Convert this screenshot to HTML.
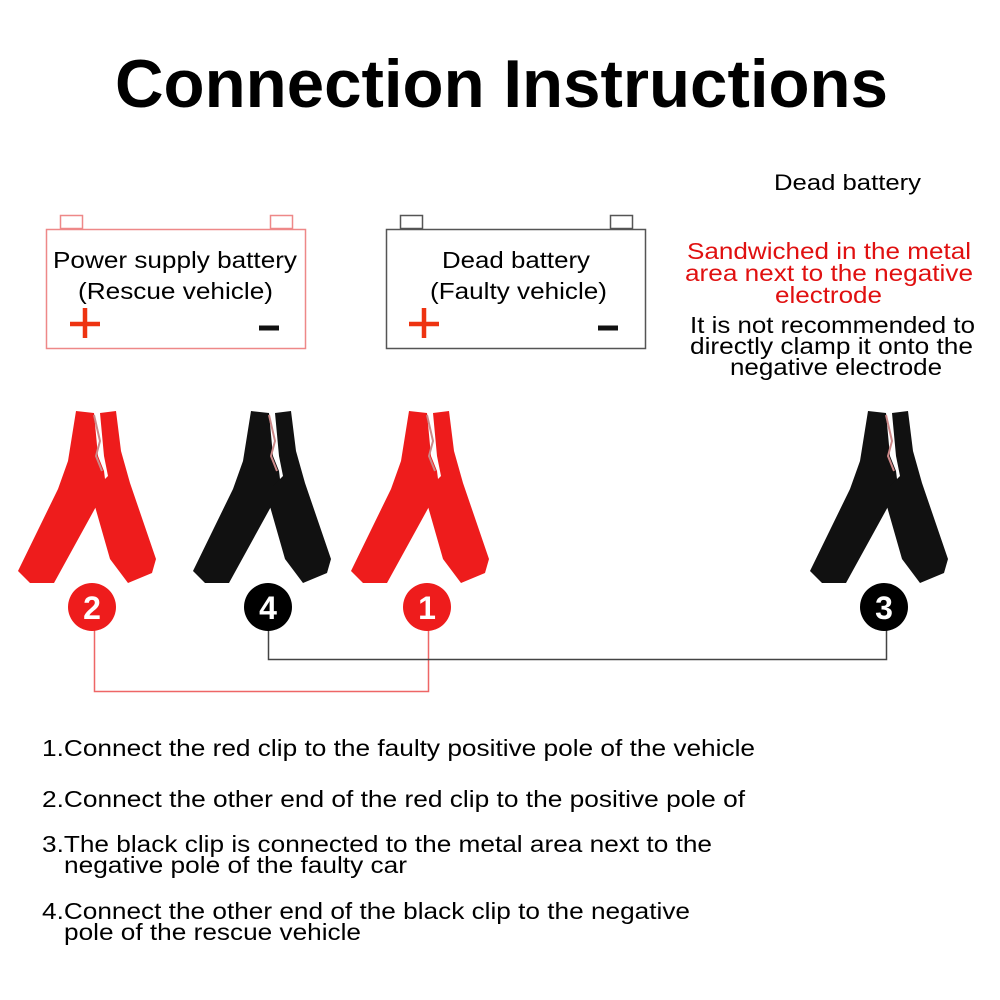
<!DOCTYPE html>
<html><head><style>
body{margin:0;background:#fff;width:1000px;height:1000px;overflow:hidden}
svg{display:block}
text{font-family:"Liberation Sans",Arial,sans-serif}
</style></head><body>
<svg width="1000" height="1000" viewBox="0 0 1000 1000">
<defs>
<g id="clip">
<path d="M58,0 L76,2 L80,45 L86,60 L88,76 L80,92 L36,172 L12,172 L0,160 L40,78 L50,50 Z"/>
<path d="M82,2 L98,0 L103,40 L112,72 L138,148 L134,162 L110,172 L92,148 L76,92 L80,75 L90,65 L86,45 Z"/>
<path d="M76,4 L82,30 L78,45 L84,60" fill="none" stroke="#c88" stroke-width="2"/>
</g>
</defs>
<text x="115" y="107" font-size="68" font-weight="bold" textLength="773" lengthAdjust="spacingAndGlyphs" fill="#000">Connection Instructions</text>

<!-- battery 1 -->
<rect x="60.5" y="215.5" width="22" height="13" fill="none" stroke="#e88" stroke-width="1.5"/>
<rect x="270.5" y="215.5" width="22" height="13" fill="none" stroke="#e88" stroke-width="1.5"/>
<rect x="46.5" y="229.5" width="259" height="119" fill="none" stroke="#e88" stroke-width="1.5"/>
<g font-size="23" lengthAdjust="spacingAndGlyphs">
<text x="53" y="268" textLength="244" lengthAdjust="spacingAndGlyphs">Power supply battery</text>
<text x="78" y="299" textLength="195" lengthAdjust="spacingAndGlyphs">(Rescue vehicle)</text>
<text x="442" y="268" textLength="148" lengthAdjust="spacingAndGlyphs">Dead battery</text>
<text x="430" y="299" textLength="177" lengthAdjust="spacingAndGlyphs">(Faulty vehicle)</text>
</g>
<path d="M70,324 H100 M85,308 V338" stroke="#e31" stroke-width="4.5"/>
<path d="M259,328 H279" stroke="#111" stroke-width="5"/>

<!-- battery 2 -->
<rect x="400.5" y="215.5" width="22" height="13" fill="none" stroke="#555" stroke-width="1.5"/>
<rect x="610.5" y="215.5" width="22" height="13" fill="none" stroke="#555" stroke-width="1.5"/>
<rect x="386.5" y="229.5" width="259" height="119" fill="none" stroke="#555" stroke-width="1.5"/>
<path d="M409,324 H439 M424,308 V338" stroke="#e31" stroke-width="4.5"/>
<path d="M598,328 H618" stroke="#111" stroke-width="5"/>

<text x="774" y="190" font-size="22" textLength="147" lengthAdjust="spacingAndGlyphs">Dead battery</text>
<g font-size="23" fill="#e01010">
<text x="687" y="259" textLength="284" lengthAdjust="spacingAndGlyphs">Sandwiched in the metal</text>
<text x="685" y="281" textLength="288" lengthAdjust="spacingAndGlyphs">area next to the negative</text>
<text x="775" y="303" textLength="107" lengthAdjust="spacingAndGlyphs">electrode</text>
</g>
<g font-size="23" fill="#000">
<text x="690" y="333" textLength="285" lengthAdjust="spacingAndGlyphs">It is not recommended to</text>
<text x="690" y="354" textLength="283" lengthAdjust="spacingAndGlyphs">directly clamp it onto the</text>
<text x="730" y="375" textLength="212" lengthAdjust="spacingAndGlyphs">negative electrode</text>
</g>

<!-- clips -->
<use href="#clip" transform="translate(18,411)" fill="#ee1c1c"/>
<use href="#clip" transform="translate(193,411)" fill="#111"/>
<use href="#clip" transform="translate(351,411)" fill="#ee1c1c"/>
<use href="#clip" transform="translate(810,411)" fill="#111"/>

<!-- connectors -->
<path d="M94.5,620 V691.5 H428.5 V620" fill="none" stroke="#e66" stroke-width="1.5"/>
<path d="M268.5,620 V659.5 H886.5 V620" fill="none" stroke="#444" stroke-width="1.5"/>

<g font-size="32" font-weight="bold" text-anchor="middle" fill="#fff">
<circle cx="92" cy="607" r="24" fill="#ee1c1c"/><text x="92" y="619">2</text>
<circle cx="268" cy="607" r="24" fill="#000"/><text x="268" y="619">4</text>
<circle cx="427" cy="607" r="24" fill="#ee1c1c"/><text x="427" y="619">1</text>
<circle cx="884" cy="607" r="24" fill="#000"/><text x="884" y="619">3</text>
</g>

<g font-size="23" fill="#000">
<text x="42" y="756" textLength="713" lengthAdjust="spacingAndGlyphs">1.Connect the red clip to the faulty positive pole of the vehicle</text>
<text x="42" y="807" textLength="703" lengthAdjust="spacingAndGlyphs">2.Connect the other end of the red clip to the positive pole of</text>
<text x="42" y="852" textLength="670" lengthAdjust="spacingAndGlyphs">3.The black clip is connected to the metal area next to the</text>
<text x="64" y="873" textLength="343" lengthAdjust="spacingAndGlyphs">negative pole of the faulty car</text>
<text x="42" y="919" textLength="648" lengthAdjust="spacingAndGlyphs">4.Connect the other end of the black clip to the negative</text>
<text x="64" y="940" textLength="297" lengthAdjust="spacingAndGlyphs">pole of the rescue vehicle</text>
</g>
</svg>
</body></html>
